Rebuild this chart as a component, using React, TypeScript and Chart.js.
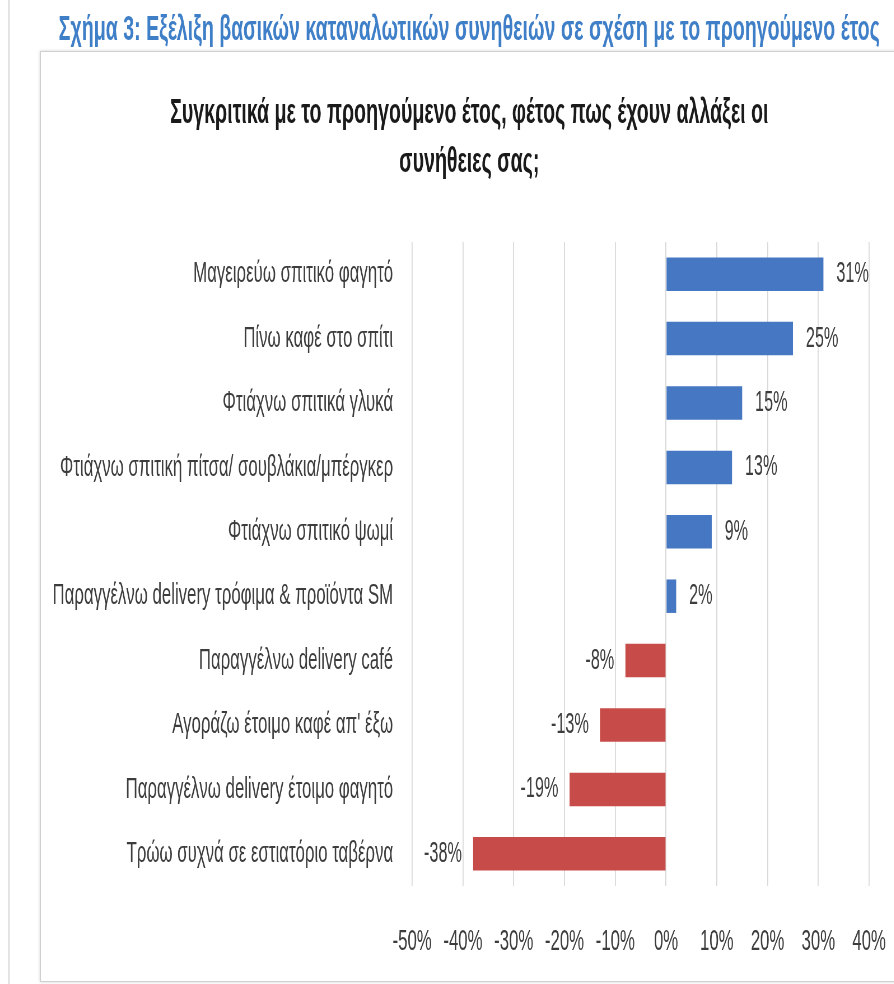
import React, { useEffect, useRef } from "react";
import { Chart, registerables } from "chart.js";

Chart.register(...registerables);

// ---- data ----
const figureTitle =
  "Σχήμα 3: Εξέλιξη βασικών καταναλωτικών συνηθειών σε σχέση με το προηγούμενο έτος";
const chartTitle = [
  "Συγκριτικά με το προηγούμενο έτος, φέτος πως έχουν αλλάξει οι",
  "συνήθειες σας;",
];
const categories = [
  "Μαγειρεύω σπιτικό φαγητό",
  "Πίνω καφέ στο σπίτι",
  "Φτιάχνω σπιτικά γλυκά",
  "Φτιάχνω σπιτική πίτσα/ σουβλάκια/μπέργκερ",
  "Φτιάχνω σπιτικό ψωμί",
  "Παραγγέλνω delivery τρόφιμα & προϊόντα SM",
  "Παραγγέλνω delivery café",
  "Αγοράζω έτοιμο καφέ απ' έξω",
  "Παραγγέλνω delivery έτοιμο φαγητό",
  "Τρώω συχνά σε εστιατόριο ταβέρνα",
];
const values = [31, 25, 15, 13, 9, 2, -8, -13, -19, -38];
const xMin = -50;
const xMax = 40;
const xStep = 10;

// ---- styling ----
const SX = 0.56;
const PAGE_W = 894;
const PAGE_H = 984;
const CANVAS_W = 1676;
const PLOT_LEFT = 736;
const PLOT_RIGHT = 1552;
const FONT = "'Liberation Sans', Arial, sans-serif";
const positiveColor = "#4677C2";
const negativeColor = "#C74B48";
const textColor = "#3d3d3d";

const dataLabelPlugin = {
  id: "dataLabels",
  afterDatasetsDraw(chart: any) {
    const ctx = chart.ctx;
    const meta = chart.getDatasetMeta(0);
    ctx.save();
    ctx.font = `29px ${FONT}`;
    ctx.fillStyle = textColor;
    ctx.textBaseline = "middle";
    meta.data.forEach((bar: any, i: number) => {
      const v = values[i];
      const label = `${v}%`;
      if (v >= 0) {
        ctx.textAlign = "left";
        ctx.fillText(label, bar.x + 23, bar.y);
      } else {
        ctx.textAlign = "right";
        ctx.fillText(label, bar.x - 20, bar.y);
      }
    });
    ctx.restore();
  },
};

export default function App() {
  const canvasRef = useRef<HTMLCanvasElement | null>(null);

  useEffect(() => {
    if (!canvasRef.current) return;
    const chart = new Chart(canvasRef.current, {
      type: "bar",
      data: {
        labels: categories,
        datasets: [
          {
            data: values,
            yAxisID: "y",
            xAxisID: "x",
            backgroundColor: values.map((v) => (v >= 0 ? positiveColor : negativeColor)),
            borderWidth: 0,
            barPercentage: 0.52,
            categoryPercentage: 1,
          },
        ],
      },
      options: {
        indexAxis: "y",
        responsive: false,
        animation: false,
        layout: { padding: 0 },
        plugins: {
          legend: { display: false },
          tooltip: { enabled: false },
          title: {
            display: true,
            text: figureTitle,
            color: "#3F7FC8",
            font: { family: FONT, size: 35, weight: "bold", lineHeight: 36 / 35 },
            padding: { top: 12, bottom: 0 },
          },
          subtitle: {
            display: true,
            text: chartTitle,
            color: "#1a1a1a",
            font: { family: FONT, size: 35, weight: "bold", lineHeight: 49 / 35 },
            padding: { top: 40.5, bottom: 55.5 },
          },
        },
        scales: {
          y: {
            position: "left",
            afterFit: (scale: any) => {
              scale.width = PLOT_LEFT;
            },
            ticks: {
              padding: 34,
              color: textColor,
              font: { family: FONT, size: 30 },
              autoSkip: false,
            },
            grid: { display: false, drawTicks: false },
            border: { display: false },
          },
          x: {
            type: "linear",
            min: xMin,
            max: xMax,
            afterFit: (scale: any) => {
              scale.height = 98;
            },
            ticks: {
              stepSize: xStep,
              padding: 38,
              color: textColor,
              font: { family: FONT, size: 30 },
              maxRotation: 0,
              callback: (v: any) => `${v}%`,
            },
            grid: {
              color: "#d9d9d9",
              lineWidth: 1.8,
              drawTicks: false,
            },
            border: { display: false },
          },
          rightSpace: {
            type: "category",
            position: "right",
            display: true,
            afterFit: (scale: any) => {
              scale.width = CANVAS_W - PLOT_RIGHT;
            },
            ticks: { display: false },
            grid: { display: false, drawTicks: false },
            border: { display: false },
          },
        },
      },
      plugins: [dataLabelPlugin],
    });
    return () => chart.destroy();
  }, []);

  return (
    <div
      style={{
        position: "fixed",
        left: 0,
        top: 0,
        width: PAGE_W,
        height: PAGE_H,
        overflow: "hidden",
        background: "#ffffff",
      }}
    >
      <div
        style={{
          position: "absolute",
          left: 8,
          top: 0,
          width: 2,
          height: PAGE_H,
          background: "#e4e4e4",
        }}
      />
      <div
        style={{
          position: "absolute",
          left: 40,
          top: 51,
          width: 900,
          height: 929,
          border: "1px solid #d0d0d0",
          boxShadow: "0 0 3px rgba(0,0,0,0.18)",
          background: "#ffffff",
        }}
      />
      <div
        style={{
          position: "absolute",
          left: 0,
          top: 0,
          width: CANVAS_W,
          height: PAGE_H,
          transform: `scaleX(${SX})`,
          transformOrigin: "0 0",
        }}
      >
        <canvas
          ref={canvasRef}
          width={CANVAS_W}
          height={PAGE_H}
          style={{ display: "block", width: CANVAS_W, height: PAGE_H }}
        />
      </div>
    </div>
  );
}
